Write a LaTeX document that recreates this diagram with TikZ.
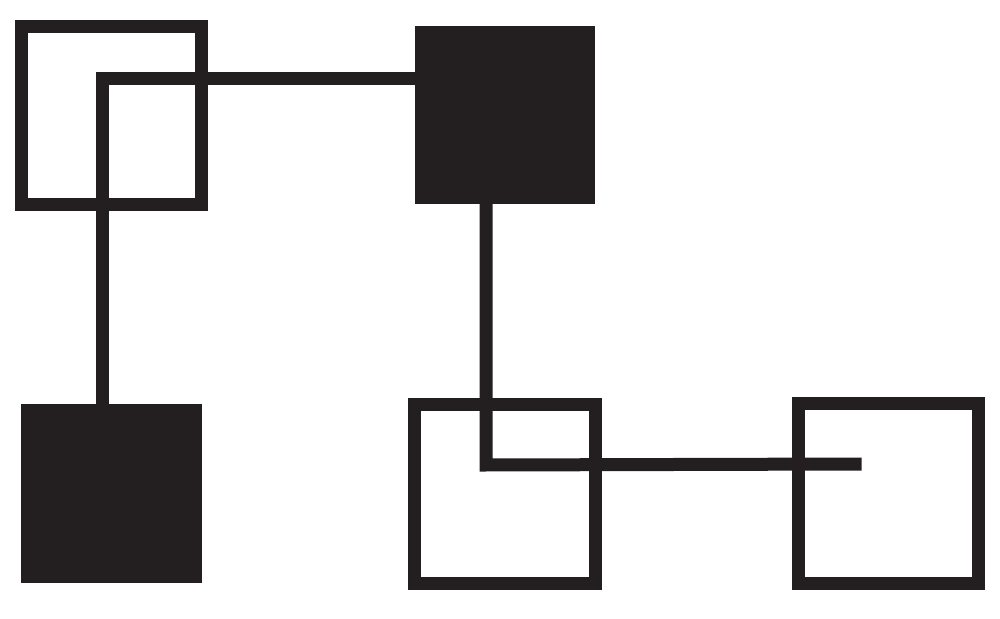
\documentclass[tikz,border=0pt]{standalone}
\begin{document}
\begin{tikzpicture}[x=0.5pt,y=-0.5pt]
\definecolor{ink}{HTML}{231F20}
\tikzset{
  openbox/.style={draw=ink,line width=6.5pt,fill=none,inner sep=0pt,outer sep=0pt,rectangle},
  solidbox/.style={fill=ink,draw=none,inner sep=0pt,outer sep=0pt,rectangle},
  wire/.style={draw=ink,line width=6.5pt,line join=miter}
}
\useasboundingbox (0,0) rectangle (1000,619);
% boxes
\node[openbox,minimum width=90pt,minimum height=89pt] (A) at (111.5,115.5) {};
\node[solidbox,minimum width=90pt,minimum height=89pt] (B) at (505,115) {};
\node[solidbox,minimum width=90.5pt,minimum height=89.5pt] (C) at (111.5,493.5) {};
\node[openbox,minimum width=90.25pt,minimum height=89.25pt] (D) at (504.75,493.75) {};
\node[openbox,minimum width=90pt,minimum height=89.5pt] (E) at (888.5,493.5) {};
% connector corners
\coordinate (k1) at (102.5,78.5);
\coordinate (k2) at (486,465);
\coordinate (eend) at (861.7,464);
% connectors
\draw[wire] (C.north -| k1) -- (k1) -- (B.west |- k1);
\draw[wire] (B.south -| k2) -- (k2) -- (eend);
\end{tikzpicture}
\end{document}
